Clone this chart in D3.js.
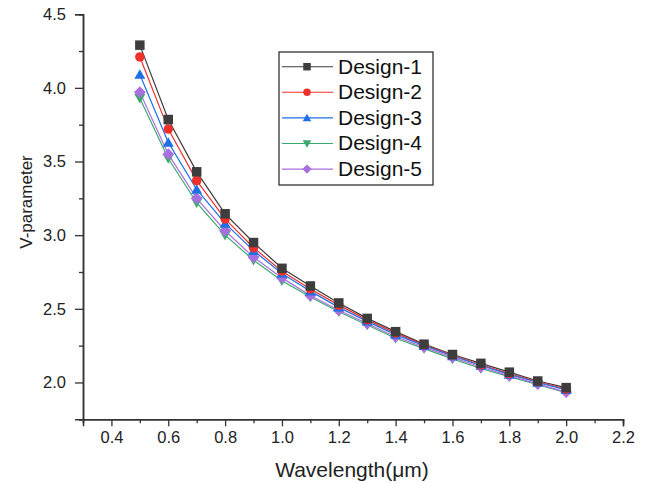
<!DOCTYPE html>
<html><head><meta charset="utf-8">
<script src="https://cdnjs.cloudflare.com/ajax/libs/d3/7.8.5/d3.min.js"></script>
<style>body{margin:0;background:#fff;} svg{display:block;font-family:Arial,"Liberation Sans",sans-serif;}</style>
</head><body><svg id="c" width="648" height="483"></svg>
<script>
const wavelengths = [0.5,0.6,0.7,0.8,0.9,1.0,1.1,1.2,1.3,1.4,1.5,1.6,1.7,1.8,1.9,2.0];
const design1 = [4.29,3.785,3.43,3.145,2.95,2.775,2.655,2.54,2.435,2.345,2.26,2.19,2.13,2.07,2.01,1.965];
const design2 = [4.21,3.72,3.37,3.11,2.915,2.755,2.635,2.525,2.425,2.335,2.255,2.185,2.12,2.06,2.005,1.955];
const design3 = [4.09,3.63,3.31,3.08,2.895,2.74,2.62,2.51,2.415,2.325,2.25,2.18,2.115,2.055,2.0,1.95];
const design4 = [3.93,3.52,3.22,3.00,2.83,2.69,2.58,2.48,2.39,2.30,2.23,2.16,2.095,2.04,1.985,1.93];
const design5 = [3.97,3.55,3.25,3.03,2.85,2.71,2.59,2.49,2.40,2.31,2.24,2.17,2.105,2.045,1.99,1.935];
const seriesNames = ["Design-1","Design-2","Design-3","Design-4","Design-5"];
const xTicks = [0.4,0.6,0.8,1.0,1.2,1.4,1.6,1.8,2.0,2.2];
const yTicks = [2.0,2.5,3.0,3.5,4.0,4.5];

const series = [
  {name: seriesNames[0], values: design1, color: "#3d3d3d", shape: "square"},
  {name: seriesNames[1], values: design2, color: "#ef302b", shape: "circle"},
  {name: seriesNames[2], values: design3, color: "#1f6fe6", shape: "triangle"},
  {name: seriesNames[3], values: design4, color: "#3aaa6c", shape: "down"},
  {name: seriesNames[4], values: design5, color: "#a870de", shape: "diamond"}
];

const svg = d3.select("#c");
const x = d3.scaleLinear().domain([0.3, 2.2]).range([83, 623]);
const y = d3.scaleLinear().domain([1.75, 4.5]).range([419.3, 14.2]);

function markerPath(shape, s) {
  const h = s/2;
  if (shape === "square") return `M${-h},${-h}H${h}V${h}H${-h}Z`;
  if (shape === "circle") return d3.symbol(d3.symbolCircle, Math.PI*h*h)();
  if (shape === "triangle") return `M0,${-h*1.1}L${h*1.15},${h*0.9}L${-h*1.15},${h*0.9}Z`;
  if (shape === "down") return `M0,${h*1.1}L${h*1.15},${-h*0.9}L${-h*1.15},${-h*0.9}Z`;
  if (shape === "diamond") return `M0,${-h*1.25}L${h*1.25},0L0,${h*1.25}L${-h*1.25},0Z`;
}

// axes
const xAxisMinor = d3.axisBottom(x).tickValues(d3.range(3,23,2).map(v=>v/10)).tickSize(4).tickFormat("");
const xAxis = d3.axisBottom(x).tickValues(xTicks).tickSize(7).tickFormat(d3.format(".1f"));
const yAxisMinor = d3.axisLeft(y).tickValues([1.75,2.25,2.75,3.25,3.75,4.25]).tickSize(4).tickFormat("");
const yAxis = d3.axisLeft(y).tickValues(yTicks).tickSize(8).tickFormat(d3.format(".1f"));

function styleAxis(g){
  g.select(".domain").attr("stroke","#333").attr("stroke-width",1.5);
  g.selectAll(".tick line").attr("stroke","#333").attr("stroke-width",1.3);
  g.selectAll(".tick text").attr("fill","#222").style("font-size","16.5px").style("font-family","Arial, 'Liberation Sans', sans-serif");
}
svg.append("g").attr("transform","translate(0,419.3)").call(xAxisMinor).call(styleAxis);
svg.append("g").attr("transform","translate(0,419.3)").call(xAxis).call(styleAxis)
  .selectAll(".tick text").attr("y",24).attr("dy",0);
svg.append("g").attr("transform","translate(83,0)").call(yAxisMinor).call(styleAxis);
svg.append("g").attr("transform","translate(83,0)").call(yAxis).call(styleAxis)
  .selectAll(".tick text").attr("x",-17);

// titles
svg.append("text").attr("x",352).attr("y",477).attr("text-anchor","middle")
  .style("font-size","21px").attr("fill","#222").text("Wavelength(μm)");
svg.append("text").attr("transform","translate(32,202) rotate(-90)").attr("text-anchor","middle")
  .style("font-size","17px").attr("fill","#222").text("V-parameter");

// lines & markers
const line = d3.line().x((d,i)=>x(wavelengths[i])).y(d=>y(d));
series.forEach(s=>{
  svg.append("path").datum(s.values).attr("d",line).attr("fill","none")
    .attr("stroke",s.color).attr("stroke-width",1.2);
});
[3,4,2,1,0].forEach(k=>{
  const s = series[k];
  svg.append("g").selectAll("path").data(s.values).join("path")
    .attr("transform",(d,i)=>`translate(${x(wavelengths[i])},${y(d)})`)
    .attr("d",markerPath(s.shape,9.5)).attr("fill",s.color);
});

// legend
const lg = svg.append("g");
lg.append("rect").attr("x",279).attr("y",52).attr("width",154).attr("height",133)
  .attr("fill","#fff").attr("stroke","#333").attr("stroke-width",1.3);
series.forEach((s,i)=>{
  const yy = 66.7 + i*25.6;
  lg.append("line").attr("x1",282).attr("x2",333).attr("y1",yy).attr("y2",yy)
    .attr("stroke",s.color).attr("stroke-width",1.1);
  lg.append("path").attr("transform",`translate(307,${yy})`).attr("d",markerPath(s.shape,7.5)).attr("fill",s.color);
  lg.append("text").attr("x",338).attr("y",yy+6.8).style("font-size","21px").attr("fill","#111").text(s.name);
});
</script></body></html>
